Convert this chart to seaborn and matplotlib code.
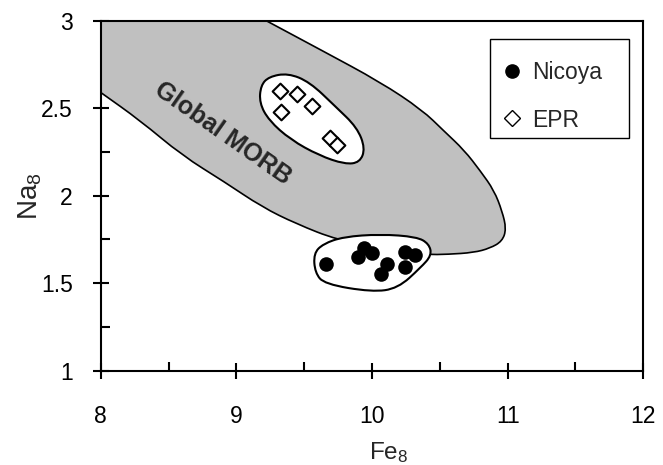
import numpy as np
import pandas as pd
import matplotlib
matplotlib.use("Agg")
import matplotlib.pyplot as plt
from matplotlib.path import Path
from matplotlib.patches import PathPatch, Rectangle
from matplotlib.lines import Line2D
import seaborn as sns

# Nicoya samples (Fe8, Na8)
nicoya_fe8 = [9.66, 9.94, 10.00, 9.90, 10.11, 10.07, 10.24, 10.32, 10.24]
nicoya_na8 = [1.61, 1.70, 1.67, 1.65, 1.61, 1.55, 1.68, 1.66, 1.59]

# East Pacific Rise samples (Fe8, Na8)
epr_fe8 = [9.32, 9.45, 9.56, 9.33, 9.69, 9.74]
epr_na8 = [2.60, 2.58, 2.51, 2.48, 2.33, 2.29]

# Outline of the global MORB field
morb_fe8 = [7.80, 7.80, 8.98, 9.22, 9.63, 10.06, 10.37, 10.53, 10.68, 10.80,
            10.90, 10.96, 10.99, 10.96, 10.87, 10.75, 10.56, 10.40, 10.10,
            9.75, 9.44, 9.19, 8.91, 8.60, 8.29, 8.00, 7.80]
morb_na8 = [2.70, 3.20, 3.10, 3.00, 2.83, 2.65, 2.49, 2.37, 2.26, 2.14,
            2.03, 1.91, 1.81, 1.74, 1.70, 1.675, 1.665, 1.663, 1.70,
            1.745, 1.84, 1.935, 2.08, 2.23, 2.43, 2.59, 2.70]

# Envelopes around each sample group
nicoya_env_fe8 = [9.57, 9.58, 9.65, 10.00, 10.19, 10.36, 10.44, 10.42, 10.33,
                  10.06, 9.79, 9.64]
nicoya_env_na8 = [1.67, 1.56, 1.495, 1.45, 1.47, 1.59, 1.66, 1.725, 1.765,
                  1.78, 1.765, 1.725]
epr_env_fe8 = [9.18, 9.24, 9.38, 9.54, 9.73, 9.89, 9.95, 9.91, 9.80, 9.61,
               9.40, 9.24, 9.17]
epr_env_na8 = [2.63, 2.68, 2.70, 2.65, 2.51, 2.39, 2.27, 2.19, 2.18, 2.23,
               2.32, 2.43, 2.53]

x_ticks = [8, 9, 10, 11, 12]
y_ticks = [1, 1.5, 2, 2.5, 3]
y_tick_labels = ["1", "1.5", "2", "2.5", "3"]
series_labels = ["Nicoya", "EPR"]


def smooth_closed_path(xs, ys):
    """Closed quadratic B-spline path through the given control polygon."""
    pts = np.column_stack([xs, ys])
    mids = (pts + np.roll(pts, -1, axis=0)) / 2.0
    verts = [mids[-1]]
    codes = [Path.MOVETO]
    for i in range(len(pts)):
        verts += [pts[i], mids[i]]
        codes += [Path.CURVE3, Path.CURVE3]
    verts.append(mids[-1])
    codes.append(Path.CLOSEPOLY)
    return Path(verts, codes)


sns.set_style("ticks")
plt.rcParams["font.family"] = ["Liberation Sans", "DejaVu Sans"]
plt.rcParams["mathtext.fontset"] = "custom"
plt.rcParams["mathtext.rm"] = "Liberation Sans"
plt.rcParams["mathtext.it"] = "Liberation Sans"

W, H = 663, 465
fig = plt.figure(figsize=(W / 100, H / 100), dpi=100)
ax = fig.add_axes([100.7 / W, 1 - 370.7 / H, 542.6 / W, 350 / H])

# Global MORB field
ax.add_patch(PathPatch(smooth_closed_path(morb_fe8, morb_na8),
                       facecolor="#c0c0c0", edgecolor="black", lw=1.2,
                       zorder=1))
# Sample envelopes
ax.add_patch(PathPatch(smooth_closed_path(epr_env_fe8, epr_env_na8),
                       facecolor="white", edgecolor="black", lw=1.5, zorder=2))
ax.add_patch(PathPatch(smooth_closed_path(nicoya_env_fe8, nicoya_env_na8),
                       facecolor="white", edgecolor="black", lw=1.5, zorder=2))

nicoya = pd.DataFrame({"Fe8": nicoya_fe8, "Na8": nicoya_na8})
epr = pd.DataFrame({"Fe8": epr_fe8, "Na8": epr_na8})

sns.scatterplot(data=nicoya, x="Fe8", y="Na8", ax=ax, marker="o", s=110,
                color="black", edgecolor="black", linewidth=0, zorder=3,
                legend=False)
sns.scatterplot(data=epr, x="Fe8", y="Na8", ax=ax, marker="D", s=64,
                facecolor="white", edgecolor="black", linewidth=1.5, zorder=3,
                legend=False)

ax.text(8.90, 2.355, "Global MORB", rotation=-35, rotation_mode="anchor",
        ha="center", va="center", fontsize=18, fontweight="bold", zorder=4)

ax.set_xlim(8, 12)
ax.set_ylim(1, 3)
ax.set_xticks(x_ticks)
ax.set_xticklabels([str(t) for t in x_ticks])
ax.set_yticks(y_ticks)
ax.set_yticklabels(y_tick_labels)
ax.set_xticks(np.arange(8.5, 12, 1.0), minor=True)
ax.set_yticks(np.arange(1.25, 3, 0.5), minor=True)

ax.tick_params(which="major", direction="inout", length=12, width=1.5,
               labelsize=16.5, color="black", labelcolor="black")
ax.tick_params(axis="x", which="major", pad=19)
ax.tick_params(axis="y", which="major", pad=14)
ax.tick_params(which="minor", direction="in", length=6.5, width=1.5,
               color="black")
for side in ["left", "right", "top", "bottom"]:
    ax.spines[side].set_visible(True)
    ax.spines[side].set_linewidth(1.5)
    ax.spines[side].set_color("black")

ax.set_xlabel("Fe$_8$", fontsize=17.5)
ax.set_ylabel("Na$_8$", fontsize=20)
ax.xaxis.set_label_coords(0.53, -0.198)
ax.yaxis.set_label_coords(-0.105, 0.5)

# Legend with a plain rectangular frame
fig.add_artist(Rectangle((490 / W, 1 - 138 / H), 139 / W, 99 / H,
                         transform=fig.transFigure, facecolor="white",
                         edgecolor="black", lw=1.0, zorder=5))
handles = [
    Line2D([], [], marker="o", ls="none", color="black", markersize=9.5),
    Line2D([], [], marker="D", ls="none", markerfacecolor="white",
           markeredgecolor="black", markeredgewidth=1.0, markersize=8.5),
]
leg = fig.legend(handles, series_labels, loc="upper left",
                 bbox_to_anchor=(500.5 / W, 1 - 61 / H),
                 borderaxespad=0, borderpad=0, frameon=False,
                 fontsize=16.5, labelspacing=1.07, handlelength=1.0,
                 handletextpad=0.37)
leg.set_zorder(6)

fig.savefig("out.png", dpi=100)
